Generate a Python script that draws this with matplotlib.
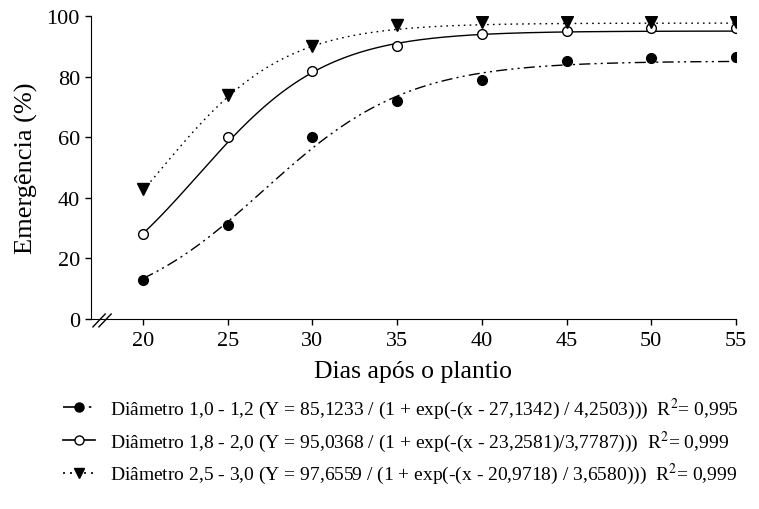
import numpy as np
import matplotlib
matplotlib.use("Agg")
import matplotlib.pyplot as plt

days = [20, 25, 30, 35, 40, 45, 50, 55]
d_10_12 = [13, 31, 60, 72, 79, 85, 86, 86.5]
d_18_20 = [28, 60, 82, 90, 94, 95, 96, 96]
d_25_30 = [43, 74, 90, 97, 98, 98, 98, 98]

# fitted logistic parameters (a, x0, b) from legend
fit_10_12 = (85.1233, 27.1342, 4.2503)
fit_18_20 = (95.0368, 23.2581, 3.7787)
fit_25_30 = (97.6559, 20.9718, 3.6580)

labels = [
    "Diâmetro 1,0 - 1,2 (Y = 85,1233 / (1 + exp(-(x - 27,1342) / 4,2503)))  R$^2$= 0,995",
    "Diâmetro 1,8 - 2,0 (Y = 95,0368 / (1 + exp(-(x - 23,2581)/3,7787)))  R$^2$= 0,999",
    "Diâmetro 2,5 - 3,0 (Y = 97,6559 / (1 + exp(-(x - 20,9718) / 3,6580)))  R$^2$= 0,999",
]

plt.rcParams['font.family'] = ['Liberation Serif', 'DejaVu Serif']
plt.rcParams['mathtext.fontset'] = 'stix'

fig = plt.figure(figsize=(7.59, 5.10), dpi=100)
ax = fig.add_axes([91/759, 1-320/510, (736-91)/759, (320-17)/510])

xs = np.linspace(20, 55, 300)
def logi(p):
    a, x0, b = p
    return a / (1 + np.exp(-(xs - x0) / b))

styles = [
    (d_10_12, fit_10_12, 'o', 'black', (0, (8, 3, 1.5, 3, 1.5, 3))),
    (d_18_20, fit_18_20, 'o', 'white', '-'),
    (d_25_30, fit_25_30, 'v', 'black', (0, (1.2, 3))),
]
handles = []
for (vals, fit, mk, fc, ls), lab in zip(styles, labels):
    ax.plot(xs, logi(fit), color='black', lw=1.0, linestyle=ls)
    ax.plot(days, vals, linestyle='none', marker=mk, markerfacecolor=fc,
            markeredgecolor='black', markersize=7 if mk == 'o' else 8, mew=1.0)
    h, = ax.plot([], [], color='black', lw=1.2, linestyle=ls, marker=mk,
                 markerfacecolor=fc, markeredgecolor='black', markersize=6.5)
    handles.append(h)

ax.set_xlim(16.93, 55)
ax.set_ylim(0, 100)
ax.set_xticks(days)
ax.set_yticks([0, 20, 40, 60, 80, 100])
ax.spines['top'].set_visible(False)
ax.spines['right'].set_visible(False)
ax.tick_params(axis='both', labelsize=16, direction='out', length=4, width=1)
ax.tick_params(axis='x', pad=5)
ax.tick_params(axis='y', pad=4)
ax.set_xlabel("Dias após o plantio", fontsize=18.5, labelpad=7)
ax.set_ylabel("Emergência (%)", fontsize=19, labelpad=6)

# axis break marks
for dx in (0.0, 0.0093):
    ax.plot([0.003 + dx, 0.022 + dx], [-0.026, 0.0165], transform=ax.transAxes,
            color='black', lw=1.0, clip_on=False)

fig.legend(handles, labels, loc='upper left', bbox_to_anchor=(63/759, 1-397/510),
           frameon=False, fontsize=14, handlelength=1.65, handletextpad=0.75,
           labelspacing=0.38, borderaxespad=0, borderpad=0)

fig.savefig("out.png", dpi=100)
